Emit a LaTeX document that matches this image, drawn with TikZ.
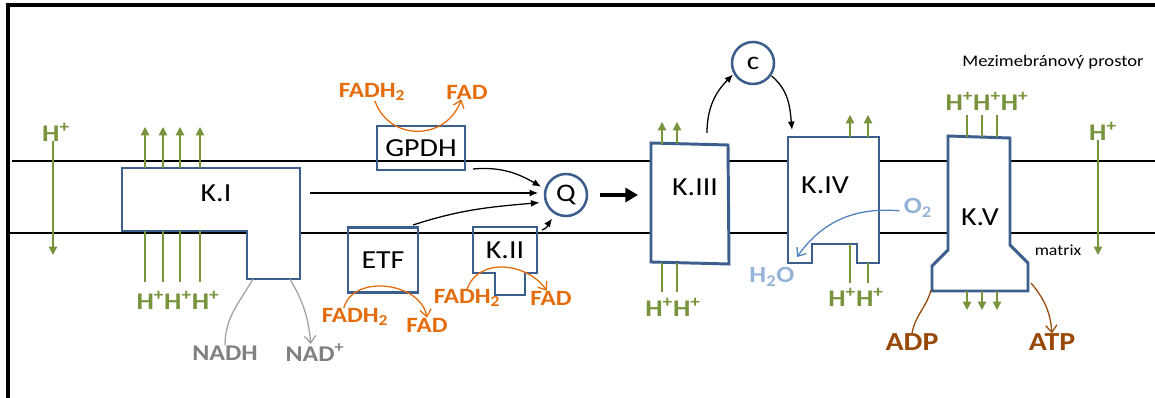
\documentclass[tikz,border=0pt]{standalone}
\usepackage{fontspec}
\setmainfont{Carlito}[FakeStretch=1.15]
\usetikzlibrary{arrows.meta,positioning,calc}
\definecolor{BoxBlue}{HTML}{3B5E8C}
\definecolor{LeafGreen}{HTML}{77933C}
\definecolor{FadOrange}{HTML}{E46C0A}
\definecolor{NadGray}{HTML}{808080}
\definecolor{NadLine}{HTML}{A0A0A0}
\definecolor{WaterBlue}{HTML}{95B3D7}
\definecolor{OxyBlue}{HTML}{4F81BD}
\definecolor{AtpBrown}{HTML}{984807}
\newcommand{\Hp}{H\textsuperscript{+}}

\begin{document}
\begin{tikzpicture}[x=0.025cm,y=-0.025cm,>=Latex,line join=miter,
  cplx/.style={draw=BoxBlue,line width=2.1pt,fill=white},
  smallbox/.style={draw=BoxBlue,line width=2.1pt,inner sep=0pt},
  carrier/.style={circle,draw=BoxBlue,line width=1.8pt,minimum size=1.05cm,inner sep=0pt,font=\fontsize{18}{18}\selectfont},
  cname/.style={font=\fontsize{18.5}{18}\selectfont,inner sep=0pt},
  hlab/.style={text=LeafGreen,font=\fontsize{17}{17}\selectfont\bfseries,inner sep=0pt},
  hup/.style={->,LeafGreen,line width=.9pt,>={Triangle[length=6pt,width=6pt]}},
  hline/.style={LeafGreen,line width=.9pt},
  fadlab/.style={text=FadOrange,font=\fontsize{15.5}{15}\selectfont\bfseries,inner sep=0pt},
  fadarc/.style={->,FadOrange,line width=.9pt,>={Straight Barb[length=5pt,width=8pt]}},
  elec/.style={->,line width=.9pt,>={Latex[length=6pt,width=5pt]}},
  membrane/.style={line width=.8pt},
  frame/.style={line width=2.4pt}]
\useasboundingbox (0,0) rectangle (1155,398);
% ramecek a membrana
\draw[frame] (8,398) -- (8,5) -- (1155,5);
\coordinate (mtl) at (12,161); \coordinate (mtr) at (1155,161);
\coordinate (mbl) at (8,233); \coordinate (mbr) at (1155,233);
\draw[membrane] (mtl) -- (mtr);
\draw[membrane] (mbl) -- (mbr);
\node[font=\fontsize{11.5}{12}\selectfont,inner sep=0pt] (mezi) at (1053,62) {Mezimebránový prostor};
\node[font=\fontsize{11}{12}\selectfont,inner sep=0pt] (matrix) at (1058,250) {matrix};

% volne H+
\node[hlab] (hl) at (56,132) {\Hp};
\coordinate (hlb) at (53,255);
\draw[hup] (hl.south -| hlb) -- (hlb);
\node[hlab] (hr) at (1103,131) {\Hp};
\coordinate (hrb) at (1098,255);
\draw[hup] (hr.south -| hrb) -- (hrb);

% K.I
\draw[cplx] (122,168) -- (300,168) -- (300,279) -- (247,279) -- (247,231) -- (122,231) -- cycle;
\node[cname] (k1) at (216,193) {K.I};
\foreach \x in {145,163,180,200}{
  \draw[hup] (\x,168) -- (\x,127);
  \draw[hline] (\x,231) -- (\x,282);
}
\node[hlab] (hk1) at (178,300) {\Hp\Hp\Hp};
\node[font=\fontsize{16}{16}\selectfont\bfseries,text=NadGray,inner sep=0pt] (nadh) at (225,353) {NADH};
\node[font=\fontsize{16}{16}\selectfont\bfseries,text=NadGray,inner sep=0pt] (nadp) at (315,353) {NAD\textsuperscript{+}};
\coordinate (k1a) at (253,279); \coordinate (k1b) at (290,279);
\draw[NadLine,line width=.9pt] (k1a) to[out=-120,in=90] (nadh.north);
\draw[NadLine,line width=.9pt,->,>={Straight Barb[length=5pt,width=8pt]}] (k1b) to[out=-60,in=95] ([xshift=-3pt]nadp.north);

% GPDH
\node[smallbox,cname,minimum width=2.2cm,minimum height=1.1cm] (gpdh) at (421,148) {GPDH};
\node[fadlab] (fadh1) at (372,92) {FADH\textsubscript{2}};
\node[fadlab] (fad1) at (467,92) {FAD};
\draw[fadarc] ([xshift=2pt]fadh1.south) to[out=-70,in=-110,looseness=1.3] ([xshift=-4pt]fad1.south);

% ETF
\node[smallbox,cname,minimum width=1.75cm,minimum height=1.625cm] (etf) at (383,260) {ETF};
\node[fadlab] (fadh2) at (355,317) {FADH\textsubscript{2}};
\node[fadlab] (fad2) at (427,325) {FAD};
\draw[fadarc] ([xshift=-8pt]fadh2.north) to[out=75,in=100,looseness=1.1] (fad2.north);

% K.II
\draw[cplx,fill=none] (473,227) -- (537,227) -- (537,273) -- (525,273) -- (525,295) -- (495,295) -- (495,273) -- (473,273) -- cycle;
\node[cname] (k2) at (505,250) {K.II};
\node[fadlab] (fadh3) at (467,298) {FADH\textsubscript{2}};
\node[fadlab] (fad3) at (551,298) {FAD};
\draw[fadarc] (fadh3.north) to[out=70,in=125,looseness=1.1] ([xshift=-3pt]fad3.north);

% Q
\node[carrier] (q) at (566,195) {Q};
\coordinate (k1r) at (310,193);
\coordinate (gpdhr) at (473,169);
\coordinate (etfr) at (413,225);
\coordinate (k2r) at (542,230);
\draw[elec] (k1r) -- ([xshift=-4pt]q.west |- k1r);
\draw[elec] (gpdhr) to[out=5,in=150] ([shift={(-4pt,-2pt)}]q.150);
\draw[elec] (etfr) to[out=18,in=185] ([shift={(-4pt,0pt)}]q.200);
\draw[elec] (k2r) to[out=15,in=235] ([shift={(-2pt,-3pt)}]q.240);

% K.III
\draw[cplx] (651,143) -- (728,145) -- (729,264) -- (651,262) -- cycle;
\node[cname] (k3) at (695,187) {K.III};
\coordinate (qr) at (600,195); \coordinate (k3l) at (638,195);
\draw[->,line width=2.2pt,>={Triangle[length=9pt,width=10pt]}] (qr) -- (k3l);
\foreach \x in {662,677}{
  \draw[hup] (\x,144) -- (\x,122);
  \draw[hline] (\x,263) -- (\x,292);
}
\node[hlab] (hk3) at (673,307) {\Hp\Hp};

% c
\node[carrier] (c) at (753,63) {c};
\coordinate (k3t) at (707,133);
\coordinate (k4t) at (792,130);
\draw[elec] (k3t) to[out=90,in=-135] ([shift={(-3pt,3pt)}]c.225);
\draw[elec] ([shift={(2pt,2pt)}]c.-45) to[out=-40,in=95] (k4t);

% K.IV
\draw[cplx] (788,137) -- (879,137) -- (879,263) -- (857,263) -- (857,244) -- (812,244) -- (812,263) -- (788,263) -- cycle;
\node[cname] (k4) at (825,185) {K.IV};
\foreach \x in {850,868}{
  \draw[hup] (\x,137) -- (\x,115);
}
\draw[hline] (850,244) -- (850,283);
\draw[hline] (868,263) -- (868,283);
\node[hlab] (hk4) at (856,297) {\Hp\Hp};
\node[text=WaterBlue,font=\fontsize{16.5}{16}\selectfont\bfseries,inner sep=0pt] (o2) at (918,208) {O\textsubscript{2}};
\node[text=WaterBlue,font=\fontsize{16.5}{16}\selectfont\bfseries,inner sep=0pt] (h2o) at (772,277) {H\textsubscript{2}O};
\coordinate (h2oin) at (797,257);
\draw[OxyBlue,line width=.9pt,->,>={Straight Barb[length=5pt,width=8pt]}] ([shift={(-3pt,-2pt)}]o2.west) to[out=175,in=55] (h2oin);

% K.V
\draw[cplx] (948,136) -- (1010,138) -- (1010,245) -- (1028,263) -- (1028,291) -- (932,291) -- (932,266) -- (948,250) -- cycle;
\node[cname] (k5) at (980,217) {K.V};
\foreach \x in {967,982,997}{
  \draw[hline] (\x,115) -- (\x,137);
  \draw[hup] (\x,291) -- (\x,310);
}
\node[hlab] (hk5) at (987,101) {\Hp\Hp\Hp};
\node[text=AtpBrown,font=\fontsize{18.5}{18}\selectfont\bfseries,inner sep=0pt] (adp) at (912,342) {ADP};
\node[text=AtpBrown,font=\fontsize{18.5}{18}\selectfont\bfseries,inner sep=0pt] (atp) at (1052,342) {ATP};
\coordinate (k5a) at (931,290); \coordinate (k5b) at (1031,283);
\draw[AtpBrown,line width=.9pt] (adp.north) to[out=80,in=-105] (k5a);
\draw[AtpBrown,line width=.9pt,->,>={Straight Barb[length=5pt,width=8pt]}] (k5b) to[out=-50,in=95] (atp.north);
\end{tikzpicture}
\end{document}
